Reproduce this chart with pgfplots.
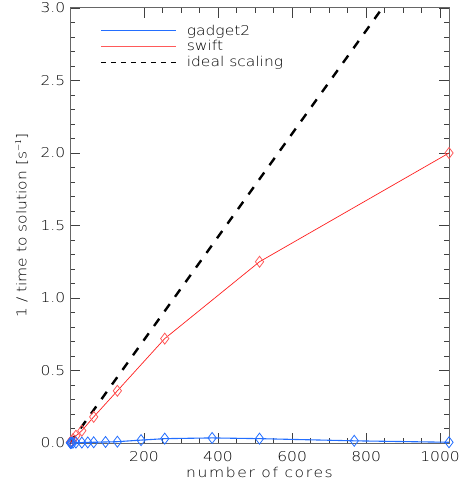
\documentclass[border=0pt]{standalone}
\usepackage{fontspec}
\setmainfont{DejaVu Sans ExtraLight}[FakeStretch=1.15]
\usepackage{pgfplots}
\pgfplotsset{compat=1.18}
\definecolor{gblue}{RGB}{35,110,255}
\definecolor{sred}{RGB}{255,30,30}
\definecolor{sredl}{RGB}{255,90,90}
\pgfplotstableread{
n t
1 0.0036
2 0.0071
4 0.014
8 0.027
16 0.05
32 0.085
64 0.18
128 0.36
256 0.72
512 1.25
1024 2.0
}\swift
\pgfplotstableread{
n t
1 0.001
2 0.001
4 0.002
8 0.002
16 0.003
32 0.003
48 0.004
64 0.005
96 0.007
128 0.009
192 0.02
256 0.03
384 0.035
512 0.03
768 0.015
1024 0.005
}\gadget
\pgfplotstableread{
n t
0 0
1024 3.64
}\ideal
\begin{document}
\begin{tikzpicture}[font=\fontsize{13.5}{16}\selectfont]
\begin{axis}[
  scale only axis, width=379pt, height=435pt,
  xmin=0, xmax=1024, ymin=0, ymax=3,
  xtick={200,400,...,1000}, minor x tick num=3,
  ytick={0,0.5,...,3}, minor y tick num=4,
  tick align=inside, major tick length=10pt, minor tick length=5pt,
  axis line style={black!60, line width=1pt},
  every tick/.style={black!75, line width=0.8pt},
  /pgf/number format/assume math mode=true,
  yticklabel style={inner sep=1pt, xshift=-3.5pt, /pgf/number format/.cd, fixed, fixed zerofill, precision=1},
  xticklabel style={inner sep=0pt, /pgf/number format/.cd, fixed, 1000 sep={}},
  xticklabel shift=8.5pt,
  xlabel={\addfontfeatures{LetterSpace=12}number of cores},
  ylabel={1 / time to solution [s$^{-1}$]},
  xlabel style={yshift=-1.5pt},
  ylabel style={yshift=8pt},
  clip=true,
  legend style={at={(0.072,0.971)}, anchor=north west, draw=none, fill=none, row sep=0pt, font=\fontsize{13.5}{16}\selectfont},
  legend cell align=left,
  legend image code/.code={\draw[#1] (0pt,0pt) -- (75pt,0pt); \path (83pt,0pt);},
]
\addlegendimage{gblue, line width=1.2pt}
\addlegendentry{gadget2}
\addlegendimage{sredl, line width=1.3pt}
\addlegendentry{swift}
\addlegendimage{black, line width=0.8pt, dash pattern=on 5pt off 5pt}
\addlegendentry{ideal scaling}
\addplot[forget plot, black, line width=2.4pt, dash pattern=on 9pt off 9pt] table[x=n,y=t] {\ideal};
\addplot[forget plot, sred, line width=0.7pt, mark=diamond, mark size=5.5pt, mark options={sredl, line width=0.8pt, solid}] table[x=n,y=t] {\swift};
\addplot[forget plot, gblue, line width=1.1pt, mark=diamond, mark size=5.5pt, mark options={gblue, line width=0.8pt, solid}] table[x=n,y=t] {\gadget};
\end{axis}
\path (current axis.south west) ++(-70pt,-40pt);
\path (current axis.north east) ++(11pt,8pt);
\end{tikzpicture}
\end{document}
